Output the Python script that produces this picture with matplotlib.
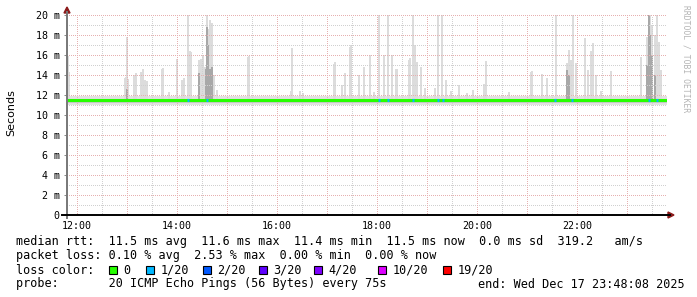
import matplotlib
matplotlib.use("Agg")
import matplotlib.pyplot as plt
from matplotlib.patches import Rectangle, Polygon
from matplotlib.lines import Line2D

W, H = 697, 297

# --- data (hours of day, values in ms) ---
t_start, t_end = 11.802, 23.802

median_hours = [11.802, 12.8, 13.8, 14.8, 15.8, 16.8, 17.8, 18.8, 19.8, 20.8, 21.8, 22.8, 23.802]
median_ms = [11.45, 11.45, 11.45, 11.45, 11.45, 11.45, 11.45, 11.45, 11.45, 11.45, 11.45, 11.45, 11.45]

band_lo_ms = 10.95
band_hi_ms = 11.85

spike_hours = [11.82, 11.84, 12.96, 12.98, 13.00, 13.02, 13.14, 13.18, 13.28, 13.32, 13.36, 13.40,
               13.70, 13.72, 13.84, 14.00, 14.10, 14.14, 14.22, 14.26, 14.28,
               14.44, 14.48, 14.52, 14.56, 14.60, 14.62, 14.66, 14.70, 14.74, 14.80,
               15.42, 15.44, 16.28, 16.30, 16.46, 16.52,
               17.14, 17.16, 17.30, 17.36, 17.46, 17.48, 17.64, 17.74,
               17.86, 17.94, 18.04, 18.14, 18.22, 18.30, 18.38, 18.40,
               18.64, 18.66, 18.72, 18.76, 18.80, 18.88, 18.96,
               19.16, 19.22, 19.30, 19.38, 19.48, 19.64, 19.80, 19.92,
               20.14, 20.18, 20.64,
               21.08, 21.10, 21.30, 21.40, 21.58, 21.80, 21.84, 21.88, 21.92, 21.98,
               22.16, 22.22, 22.28, 22.32, 22.38, 22.48, 22.68,
               23.28, 23.40, 23.44, 23.46, 23.50, 23.56, 23.60, 23.64, 23.68]
spike_ms = [15.9, 14.3, 13.7, 13.8, 17.8, 13.6, 14.0, 14.2, 14.3, 14.6, 13.5, 13.4,
            14.6, 14.7, 12.3, 15.6, 13.5, 13.7, 20.0, 16.4, 16.3,
            15.5, 15.6, 16.0, 14.8, 20.0, 18.6, 19.5, 19.2, 14.0, 12.5,
            15.8, 15.9, 12.4, 16.7, 12.4, 12.2,
            15.1, 15.3, 13.0, 14.2, 16.8, 17.0, 14.0, 14.8,
            16.0, 12.3, 20.0, 16.0, 20.0, 16.0, 14.6, 14.6,
            15.5, 15.7, 20.0, 17.0, 15.3, 14.8, 12.7,
            12.7, 20.0, 20.0, 13.5, 12.4, 13.0, 12.2, 12.5,
            13.1, 15.4, 12.3,
            14.3, 14.4, 14.1, 13.7, 20.0, 15.2, 16.5, 15.5, 20.0, 15.2,
            17.7, 14.5, 16.4, 17.2, 14.0, 12.4, 14.4,
            15.8, 17.8, 20.0, 20.0, 19.0, 18.0, 20.0, 17.3, 14.5]

dark_hours = [13.00, 14.44, 14.58, 14.60, 14.62, 14.66, 14.70, 21.80, 21.84,
              23.40, 23.44, 23.46, 23.50, 23.56]
dark_ms = [12.6, 14.2, 14.6, 18.8, 17.0, 14.6, 14.8, 14.5, 14.0,
           15.0, 20.0, 18.0, 16.0, 14.0]

loss1_hours = [14.22, 14.60, 18.04, 18.22, 18.72, 19.22, 19.32, 21.56, 21.90, 23.44, 23.60]

y_ticks = [0, 2, 4, 6, 8, 10, 12, 14, 16, 18, 20]
y_labels = ["0", "2 m", "4 m", "6 m", "8 m", "10 m", "12 m", "14 m", "16 m", "18 m", "20 m"]
x_ticks = [12, 14, 16, 18, 20, 22]
x_labels = ["12:00", "14:00", "16:00", "18:00", "20:00", "22:00"]

loss_names = ["0", "1/20", "2/20", "3/20", "4/20", "10/20", "19/20"]
loss_colors = ["#26ff00", "#00b8ff", "#0059ff", "#5e00ff", "#7e00ff", "#dd00ff", "#ff0000"]

line1 = "median rtt:  11.5 ms avg  11.6 ms max  11.4 ms min  11.5 ms now  0.0 ms sd  319.2   am/s"
line2 = "packet loss: 0.10 % avg  2.53 % max  0.00 % min  0.00 % now"
line4 = "probe:       20 ICMP Echo Pings (56 Bytes) every 75s"
end_text = "end: Wed Dec 17 23:48:08 2025"


def px(x, y):
    return x / W, 1 - y / H


fig = plt.figure(figsize=(W / 100, H / 100), dpi=100)
fig.patch.set_facecolor("white")
ax = fig.add_axes([67 / W, 82 / H, 600 / W, 200 / H])
ax.set_xlim(t_start, t_end)
ax.set_ylim(0, 20)
for s in ax.spines.values():
    s.set_visible(False)

# smoke
ax.fill_between([t_start, t_end], band_lo_ms, band_hi_ms, color="#e2e2e2", lw=0, zorder=1)
ax.fill_between([t_start, t_end], 11.15, 11.3, color="#c8c8c8", lw=0, zorder=1)
ax.bar(spike_hours, [v - 11.5 for v in spike_ms], bottom=11.5, width=0.04,
       color="#dcdcdc", linewidth=0, zorder=1)
ax.bar(dark_hours, [v - 11.5 for v in dark_ms], bottom=11.5, width=0.03,
       color="#a8a8a8", linewidth=0, zorder=1.2)

# median line + loss
ax.step(median_hours, median_ms, where="post", color=loss_colors[0], lw=2.2, zorder=3,
        solid_capstyle="butt")
for h in loss1_hours:
    ax.plot([h - 0.02, h + 0.02], [11.45, 11.45], color=loss_colors[1], lw=2.2, zorder=3.1,
            solid_capstyle="butt")

# grid
dots = (0, (1, 2))
for v in range(1, 21):
    major = v % 2 == 0
    ax.axhline(v, color="#e6b0b0" if major else "#d0d0d0", lw=0.72, ls=dots, zorder=2.5,
               antialiased=False)
h = 12.0
while h < t_end:
    major = abs(h - round(h)) < 1e-6
    ax.axvline(h, color="#e6b0b0" if major else "#d0d0d0", lw=0.72, ls=dots, zorder=2.5,
               antialiased=False)
    h += 0.5

ax.set_yticks(y_ticks)
ax.set_yticklabels(y_labels)
ax.set_xticks(x_ticks)
ax.set_xticklabels(x_labels)
ax.tick_params(axis="y", length=2.2, width=0.7, color="#888888", pad=3,
               labelsize=7.2, labelfontfamily="DejaVu Sans Mono")
ax.tick_params(axis="x", length=0, pad=4.5, labelsize=7.2, labelfontfamily="DejaVu Sans Mono")

# axes lines and arrows
fig.add_artist(Line2D([67 / W, 67 / W], [1 - 218 / H, 1 - 12 / H], color="#777777", lw=1.4))
fig.add_artist(Line2D([62 / W, 670 / W], [1 - 215 / H, 1 - 215 / H], color="black", lw=1.4))
fig.add_artist(Polygon([px(67, 7), px(64, 13), px(70, 13)], closed=True, color="#8b1a1a"))
fig.add_artist(Polygon([px(674, 215), px(668, 212), px(668, 218)], closed=True, color="#8b1a1a"))

fig.text(*px(11, 113), "Seconds", rotation=90, ha="center", va="center",
         fontsize=8, family="DejaVu Sans")
fig.text(*px(686, 5), "RRDTOOL / TOBI OETIKER", rotation=270, ha="center", va="top",
         fontsize=5.8, family="DejaVu Sans Mono", color="#b4b4b4")

# legend
mono = dict(fontsize=8.5, family="DejaVu Sans Mono", va="center", ha="left")
fig.text(*px(16, 241), line1, **mono)
fig.text(*px(16, 256), line2, **mono)
fig.text(*px(16, 270), "loss color:", **mono)
box_x = [109, 146, 203, 259, 314, 378, 443]
for bx, name, col in zip(box_x, loss_names, loss_colors):
    x0, y0 = px(bx, 274)
    fig.add_artist(Rectangle((x0, y0), 8 / W, 8 / H, facecolor=col, edgecolor="black", lw=0.8))
    fig.text(*px(bx + 14.5, 270), name, **mono)
fig.text(*px(16, 284), line4, **mono)
fig.text(*px(478, 284), end_text, **mono)

fig.savefig("out.png", dpi=100)
